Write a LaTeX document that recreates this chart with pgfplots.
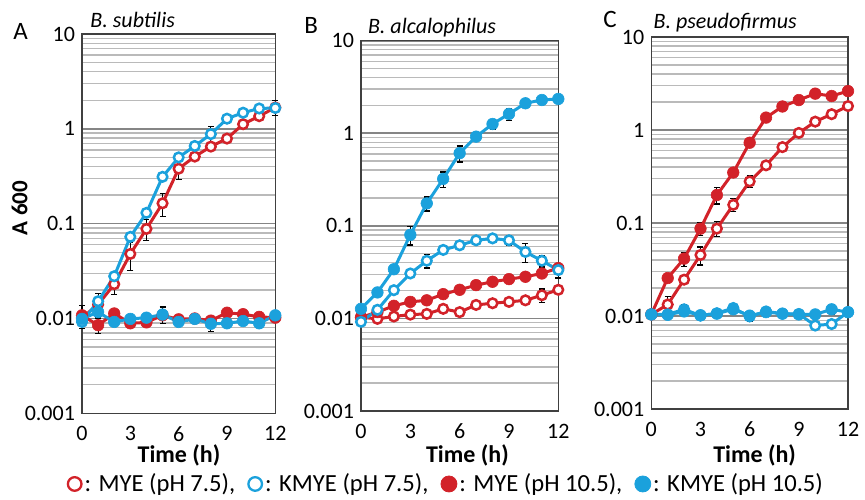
\documentclass[border=0pt]{standalone}
\usepackage{fontspec}
\setmainfont{Carlito}
\usepackage{pgfplots}
\pgfplotsset{compat=1.18}
\definecolor{myred}{HTML}{D22229}
\definecolor{myblue}{HTML}{1BA1DC}

\pgfplotsset{
  every axis/.append style={
    scale only axis,
    xmin=0, xmax=12, ymin=0.001, ymax=10,
    xtick={0,3,6,9,12},
    ytick={0.001,0.01,0.1,1,10}, yticklabels={0.001,0.01,0.1,1,10},
    minor ytick={0.002,0.003,0.004,0.005,0.006,0.007,0.008,0.009,
                 0.02,0.03,0.04,0.05,0.06,0.07,0.08,0.09,
                 0.2,0.3,0.4,0.5,0.6,0.7,0.8,0.9,2,3,4,5,6,7,8,9},
    ymajorgrids, yminorgrids,
    major grid style={black!48, line width=0.8pt},
    minor grid style={black!27, line width=0.7pt},
    major tick length=0pt, minor tick length=0pt,
    axis line style={black!75, line width=0.7pt},
    tick label style={font=\fontsize{11}{13}\selectfont},
    xticklabel style={yshift=-3pt},
    clip=false,
  },
  every axis plot/.append style={
    error bars/error bar style={draw=black, solid, line width=0.6pt},
    error bars/error mark options={rotate=90, draw=black, mark size=1.5pt, line width=0.6pt}},
}
\tikzset{
  eb/.style={draw=none, mark=none},
  ro/.style={myred, line width=1.5pt, mark=*, mark size=2.4pt,
    mark options={fill=white, draw=myred, line width=1.25pt}},
  rf/.style={myred, line width=1.5pt, mark=*, mark size=2.9pt,
    mark options={fill=myred, draw=myred, line width=0.3pt}},
  bo/.style={myblue, line width=1.5pt, mark=*, mark size=2.4pt,
    mark options={fill=white, draw=myblue, line width=1.25pt}},
  bf/.style={myblue, line width=1.5pt, mark=*, mark size=2.9pt,
    mark options={fill=myblue, draw=myblue, line width=0.3pt}},
}

\begin{document}
\begin{tikzpicture}

% A: B. subtilis
\begin{axis}[ymode=log, /pgf/number format/assume math mode=true,
  at={(41pt,-206.65pt)}, anchor=south west,
  width=96.65pt, height=189.65pt]
% error bars (SD) of the points that show them
\addplot[eb, forget plot, error bars/y dir=both, error bars/y explicit] coordinates {
  (2,0.023) +- (0,0.005) (3,0.048) +- (0,0.016) (4,0.088) +- (0,0.022)
  (5,0.164) +- (0,0.045) (6,0.38) +- (0,0.09) (12,1.68) +- (0,0.3)
  (0,0.0108) +- (0,0.003) (1,0.0085) +- (0,0.0016)
  (1,0.0152) +- (0,0.003) (8,0.88) +- (0,0.17) (9,1.28) +- (0,0.15)
  (5,0.0110) +- (0,0.0022) (8,0.0088) +- (0,0.0015)};
\addplot[ro] coordinates {(0,0.0102) (1,0.0140) (2,0.023) (3,0.048) (4,0.088) (5,0.164)
  (6,0.38) (7,0.51) (8,0.65) (9,0.79) (10,1.12) (11,1.36) (12,1.68)};
\addplot[rf] coordinates {(0,0.0108) (1,0.0085) (2,0.0113) (3,0.0089) (4,0.0091) (5,0.0108)
  (6,0.0098) (7,0.0100) (8,0.0095) (9,0.0115) (10,0.0111) (11,0.0104) (12,0.0102)};
\addplot[bo] coordinates {(0,0.0092) (1,0.0152) (2,0.0279) (3,0.0726) (4,0.13) (5,0.312)
  (6,0.50) (7,0.66) (8,0.88) (9,1.28) (10,1.48) (11,1.64) (12,1.66)};
\addplot[bf] coordinates {(0,0.0099) (1,0.0117) (2,0.0092) (3,0.0099) (4,0.0102) (5,0.0110)
  (6,0.0092) (7,0.0099) (8,0.0088) (9,0.0089) (10,0.0094) (11,0.0089) (12,0.0108)};
\end{axis}

% B: B. alcalophilus
\begin{axis}[ymode=log, /pgf/number format/assume math mode=true,
  at={(180.5pt,-205.5pt)}, anchor=south west,
  width=98.65pt, height=185.15pt,
  legend columns=4,
  legend style={at={(0.43,-0.197)}, anchor=center, draw=none, fill=none,
    font=\fontsize{12.3}{14}\selectfont, inner sep=0pt,
    nodes={inner sep=1pt},
    /tikz/every even column/.append style={column sep=5pt}},
  legend cell align=left]
\addplot[eb, forget plot, error bars/y dir=both, error bars/y explicit] coordinates {
  (0,0.0103) +- (0,0.0015) (4,0.0112) +- (0,0.0012) (10,0.0157) +- (0,0.0015)
  (11,0.0178) +- (0,0.003)
  (4,0.042) +- (0,0.007) (8,0.0733) +- (0,0.004) (9,0.0698) +- (0,0.008)
  (10,0.0523) +- (0,0.012) (11,0.042) +- (0,0.006) (12,0.0333) +- (0,0.006)
  (3,0.080) +- (0,0.018) (4,0.175) +- (0,0.03) (5,0.322) +- (0,0.06)
  (6,0.61) +- (0,0.12) (8,1.26) +- (0,0.15) (9,1.62) +- (0,0.25)};
\addplot[ro, forget plot] coordinates {(0,0.0103) (1,0.0099) (2,0.0105) (3,0.0110) (4,0.0112)
  (5,0.0127) (6,0.0117) (7,0.0140) (8,0.0146) (9,0.0151) (10,0.0157) (11,0.0178) (12,0.0204)};
\addplot[rf, forget plot] coordinates {(0,0.0103) (1,0.0117) (2,0.0137) (3,0.0151) (4,0.0157)
  (5,0.0183) (6,0.0204) (7,0.0229) (8,0.0249) (9,0.0266) (10,0.0282) (11,0.0306) (12,0.0350)};
\addplot[bo, forget plot] coordinates {(0,0.0092) (1,0.0124) (2,0.0202) (3,0.0306) (4,0.042)
  (5,0.055) (6,0.0617) (7,0.0698) (8,0.0733) (9,0.0698) (10,0.0523) (11,0.042) (12,0.0333)};
\addplot[bf, forget plot] coordinates {(0,0.0127) (1,0.0191) (2,0.034) (3,0.080) (4,0.175)
  (5,0.322) (6,0.61) (7,0.92) (8,1.26) (9,1.62) (10,2.11) (11,2.29) (12,2.35)};
\addlegendimage{legend image code/.code={\draw[myred, fill=white, line width=1.15pt] (0pt,0pt) circle (3.4pt);}}
\addlegendentry{: MYE (pH 7.5),}
\addlegendimage{legend image code/.code={\draw[myblue, fill=white, line width=1.15pt] (0pt,0pt) circle (3.4pt);}}
\addlegendentry{: KMYE (pH 7.5),}
\addlegendimage{legend image code/.code={\fill[myred] (0pt,0pt) circle (4pt);}}
\addlegendentry{: MYE (pH 10.5),}
\addlegendimage{legend image code/.code={\fill[myblue] (0pt,0pt) circle (4pt);}}
\addlegendentry{: KMYE (pH 10.5)}
\end{axis}

% C: B. pseudofirmus
\begin{axis}[ymode=log, /pgf/number format/assume math mode=true,
  at={(325.65pt,-204.5pt)}, anchor=south west,
  width=98.35pt, height=186pt]
\addplot[eb, forget plot, error bars/y dir=both, error bars/y explicit] coordinates {
  (1,0.0133) +- (0,0.003) (3,0.0453) +- (0,0.01) (4,0.087) +- (0,0.016)
  (5,0.157) +- (0,0.025) (6,0.28) +- (0,0.04)
  (2,0.0414) +- (0,0.007) (3,0.087) +- (0,0.014) (4,0.20) +- (0,0.04)
  (2,0.0118) +- (0,0.0015) (3,0.0101) +- (0,0.001) (6,0.0099) +- (0,0.0012)
  (7,0.0112) +- (0,0.001) (11,0.0118) +- (0,0.0015)};
\addplot[ro] coordinates {(0,0.0104) (1,0.0133) (2,0.0246) (3,0.0453) (4,0.087) (5,0.157)
  (6,0.28) (7,0.417) (8,0.655) (9,0.93) (10,1.23) (11,1.48) (12,1.81)};
\addplot[rf] coordinates {(0,0.0104) (1,0.0256) (2,0.0414) (3,0.087) (4,0.20) (5,0.349)
  (6,0.73) (7,1.36) (8,1.79) (9,2.1) (10,2.46) (11,2.32) (12,2.62)};
\addplot[bo] coordinates {(0,0.0104) (1,0.0104) (2,0.0118) (3,0.0101) (4,0.0107) (5,0.0122)
  (6,0.0099) (7,0.0112) (8,0.0106) (9,0.0105) (10,0.0079) (11,0.0082) (12,0.0110)};
\addplot[bf] coordinates {(0,0.0104) (1,0.0103) (2,0.0112) (3,0.0102) (4,0.0106) (5,0.0118)
  (6,0.0101) (7,0.0110) (8,0.0106) (9,0.0104) (10,0.0104) (11,0.0118) (12,0.0110)};
\end{axis}

% panel letters, titles, axis labels
\node[anchor=base west, inner sep=0pt, font=\fontsize{12.5}{14}\selectfont] at (6.5pt,-19.6pt) {A};
\node[anchor=base west, inner sep=0pt, font=\fontsize{12.5}{14}\selectfont] at (152pt,-16.6pt) {B};
\node[anchor=base west, inner sep=0pt, font=\fontsize{12.5}{14}\selectfont] at (301.5pt,-13.8pt) {C};
\node[anchor=base west, inner sep=0pt, font=\itshape\fontsize{11}{13}\selectfont] at (45pt,-13.6pt) {B. subtilis};
\node[anchor=base west, inner sep=0pt, font=\itshape\fontsize{11}{13}\selectfont] at (183.8pt,-16.6pt) {B. alcalophilus};
\node[anchor=base west, inner sep=0pt, font=\itshape\fontsize{11}{13}\selectfont] at (326.6pt,-14.1pt) {B. pseudofirmus};
\node[rotate=90, inner sep=0pt, font=\bfseries\fontsize{11.5}{13}\selectfont] at (9.8pt,-104pt) {A 600};
\node[anchor=base, inner sep=0pt, font=\bfseries\fontsize{12}{14}\selectfont] at (89.5pt,-231pt) {Time (h)};
\node[anchor=base, inner sep=0pt, font=\bfseries\fontsize{12}{14}\selectfont] at (233.7pt,-231pt) {Time (h)};
\node[anchor=base, inner sep=0pt, font=\bfseries\fontsize{12}{14}\selectfont] at (377.3pt,-231pt) {Time (h)};

\pgfresetboundingbox
\path (0pt,0pt) rectangle (432.5pt,-249.5pt);
\end{tikzpicture}
\end{document}
